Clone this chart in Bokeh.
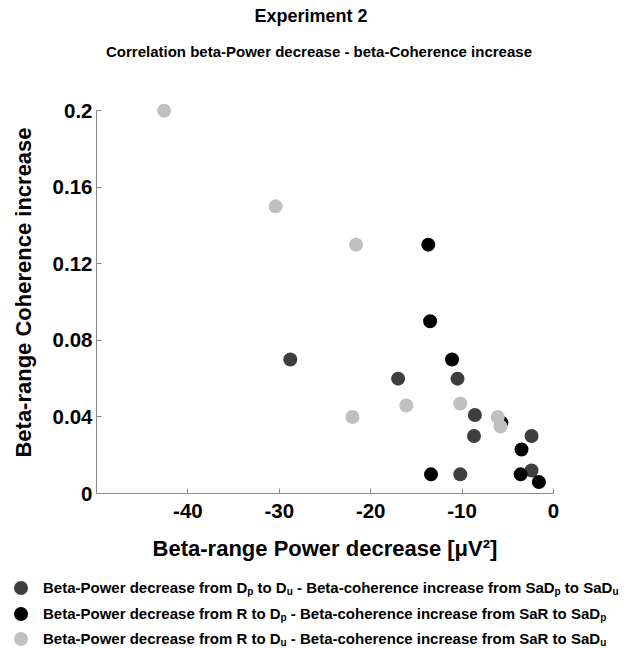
from bokeh.plotting import figure
from bokeh.models import Range1d, FixedTicker, Div
from bokeh.layouts import column
from bokeh.embed import file_html
from bokeh.resources import INLINE

# ---- data ----
dp_du_x = [-28.8, -17.0, -10.5, -8.6, -8.7, -2.4, -10.2, -2.4]
dp_du_y = [0.070, 0.060, 0.060, 0.041, 0.030, 0.030, 0.010, 0.012]

r_dp_x = [-13.7, -13.5, -11.1, -3.5, -13.4, -3.6, -1.6, -5.7]
r_dp_y = [0.130, 0.090, 0.070, 0.023, 0.010, 0.010, 0.006, 0.037]

r_du_x = [-42.6, -30.4, -21.6, -16.1, -10.2, -22.0, -6.1, -5.8]
r_du_y = [0.200, 0.150, 0.130, 0.046, 0.047, 0.040, 0.040, 0.035]

x_ticks = [-40, -30, -20, -10, 0]
y_ticks = [0, 0.04, 0.08, 0.12, 0.16, 0.2]
y_tick_labels = ["0", "0.04", "0.08", "0.12", "0.16", "0.2"]

title_text = "Experiment 2"
subtitle_text = "Correlation beta-Power decrease - beta-Coherence increase"
x_label = "Beta-range Power decrease [\u03bcV\u00b2]"
y_label = "Beta-range Coherence increase"

c_dark = "#3e3e3e"
c_black = "#000000"
c_light = "#c0c0c0"
FONT = "Liberation Sans"

# ---- titles ----
title_html = (
    '<div style="position:relative;width:620px;height:70px;">'
    f'<div style="position:absolute;left:11px;top:6px;width:600px;text-align:center;'
    f'font-family:\'{FONT}\';font-weight:bold;font-size:18px;line-height:20px;color:black;">{title_text}</div>'
    f'<div style="position:absolute;left:19px;top:43px;width:600px;text-align:center;'
    f'font-family:\'{FONT}\';font-weight:bold;font-size:15px;line-height:18px;color:black;">{subtitle_text}</div>'
    '</div>'
)
title_div = Div(text=title_html, width=620, height=70, margin=(0, 0, 0, 0))

# ---- plot ----
p = figure(
    output_backend="svg", toolbar_location=None,
    x_range=Range1d(-50, 0), y_range=Range1d(0, 0.21),
    frame_width=457, frame_height=402,
    min_border_left=96, min_border_right=67,
    min_border_top=21, min_border_bottom=66,
    background_fill_color="white", border_fill_color="white",
    outline_line_color=None, title=None,
)
p.grid.visible = False

for ax in (p.xaxis[0], p.yaxis[0]):
    ax.axis_line_color = "#8a8a8a"
    ax.major_tick_line_color = "#8a8a8a"
    ax.major_tick_in = 5
    ax.major_tick_out = 0
    ax.minor_tick_line_color = None
    ax.major_label_text_font = FONT
    ax.major_label_text_font_style = "bold"
    ax.major_label_text_font_size = "20.5px"
    ax.major_label_text_color = "black"
    ax.axis_label_text_font = FONT
    ax.axis_label_text_font_style = "bold"
    ax.axis_label_text_font_size = "22px"
    ax.axis_label_text_color = "black"

p.xaxis.ticker = FixedTicker(ticks=x_ticks)
p.yaxis.ticker = FixedTicker(ticks=y_ticks)
p.yaxis.major_label_overrides = {t: s for t, s in zip(y_ticks, y_tick_labels)}
p.xaxis.major_label_overrides = {t: str(t) for t in x_ticks}
p.yaxis.bounds = (0, 0.2)
p.xaxis.axis_label = x_label
p.yaxis.axis_label = y_label
p.xaxis.major_label_standoff = 10
p.yaxis.major_label_standoff = 4
p.xaxis.axis_label_standoff = 15
p.yaxis.axis_label_standoff = 14

p.scatter(dp_du_x, dp_du_y, size=14, color=c_dark, line_color=None)
p.scatter(r_dp_x, r_dp_y, size=14, color=c_black, line_color=None)
p.scatter(r_du_x, r_du_y, size=14, color=c_light, line_color=None)

# ---- legend ----
legend_items = [
    (c_dark, "Beta-Power decrease from D<sub>p</sub> to D<sub>u</sub> - Beta-coherence increase from SaD<sub>p</sub> to SaD<sub>u</sub>"),
    (c_black, "Beta-Power decrease from R to D<sub>p</sub> - Beta-coherence increase from SaR to SaD<sub>p</sub>"),
    (c_light, "Beta-Power decrease from R to D<sub>u</sub> - Beta-coherence increase from SaR to SaD<sub>u</sub>"),
]
row_tops = [17, 43, 68]
rows = []
for (col, txt), top in zip(legend_items, row_tops):
    rows.append(
        f'<div style="position:absolute;left:0;top:{top}px;height:16px;white-space:nowrap;">'
        f'<span style="position:absolute;left:14px;top:1px;width:14px;height:14px;border-radius:50%;background:{col};"></span>'
        f'<span style="position:absolute;left:43px;top:0;line-height:16px;font-family:\'{FONT}\';font-weight:bold;font-size:15px;color:black;">{txt}</span>'
        f'</div>'
    )
html = ('<div style="position:relative;width:620px;height:81px;">'
        '<style>sub{font-size:10px;vertical-align:-2px;line-height:0;}</style>'
        + "".join(rows) + '</div>')
legend_div = Div(text=html, width=620, height=81, margin=(0, 0, 0, 0))

layout = column(title_div, p, legend_div, spacing=0)

open("out.html", "w").write(file_html(layout, INLINE))
